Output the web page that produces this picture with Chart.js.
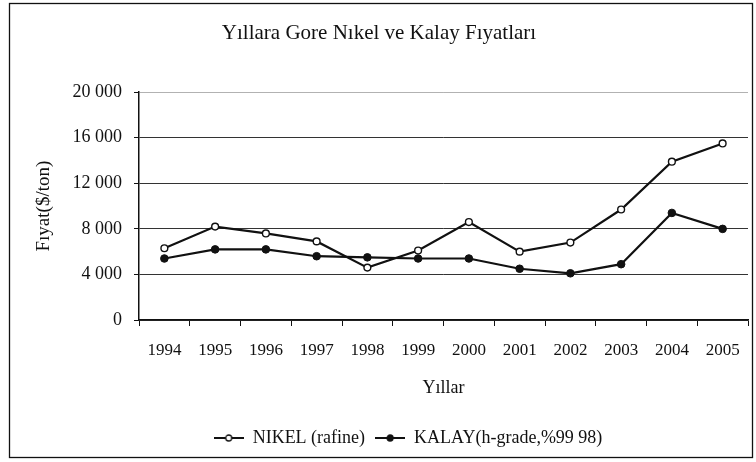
<!DOCTYPE html>
<html><head><meta charset="utf-8">
<script src="https://cdn.jsdelivr.net/npm/chart.js@4.4.1/dist/chart.umd.min.js"></script>
<style>html,body{margin:0;padding:0;background:#fff}</style>
</head><body>
<canvas id="c" width="756" height="462" style="display:block;width:756px;height:462px"></canvas>
<script>
const years = ['1994','1995','1996','1997','1998','1999','2000','2001','2002','2003','2004','2005'];
const nikel = [6300, 8200, 7600, 6900, 4600, 6100, 8600, 6000, 6800, 9700, 13900, 15500];
const kalay = [5400, 6200, 6200, 5600, 5500, 5400, 5400, 4500, 4100, 4900, 9400, 8000];
const yTicks = [0, 4000, 8000, 12000, 16000, 20000];
const seriesNames = ['NIKEL (rafine)', 'KALAY(h-grade,%99 98)'];
const titleText = 'Yıllara Gore Nıkel ve Kalay Fıyatları';
const xTitle = 'Yıllar';
const yTitle = 'Fıyat($/ton)';

const F = "'Liberation Serif','Times New Roman',serif";
const INK = '#111';

function legendIcon(filled) {
  const c = document.createElement('canvas');
  c.width = 30; c.height = 10;
  const g = c.getContext('2d');
  g.strokeStyle = INK; g.lineWidth = 2;
  g.beginPath(); g.moveTo(0, 5); g.lineTo(30, 5); g.stroke();
  g.beginPath(); g.arc(15, 5, 3, 0, Math.PI * 2);
  g.fillStyle = filled ? INK : '#fff'; g.fill();
  g.lineWidth = 1.3; g.stroke();
  return c;
}
const icons = [legendIcon(false), legendIcon(true)];

const frame = {
  id: 'frame',
  afterLayout(chart) {
    if (chart.legend) { chart.legend.left += 29; chart.legend.right += 29; }
  },
  beforeDraw(chart) {
    const ctx = chart.ctx;
    ctx.save();
    ctx.fillStyle = '#fff';
    ctx.fillRect(0, 0, chart.width, chart.height);
    ctx.strokeStyle = INK; ctx.lineWidth = 1.3;
    ctx.strokeRect(9.5, 3.5, 743, 454);
    ctx.restore();
  }
};

const fmt = v => String(v).replace(/\B(?=(\d{3})+(?!\d))/g, ' ');

new Chart(document.getElementById('c'), {
  type: 'line',
  data: {
    labels: years,
    datasets: [
      { label: seriesNames[0], data: nikel, borderColor: INK, borderWidth: 2.2, backgroundColor: '#fff',
        pointBackgroundColor: '#fff', pointBorderColor: INK, pointBorderWidth: 1.4, pointRadius: 3.4, tension: 0 },
      { label: seriesNames[1], data: kalay, borderColor: INK, borderWidth: 2.2, backgroundColor: INK,
        pointBackgroundColor: INK, pointBorderColor: INK, pointBorderWidth: 1, pointRadius: 3.8, tension: 0 }
    ]
  },
  options: {
    responsive: false,
    animation: false,
    layout: { padding: { top: 10, left: 10, right: 8, bottom: 5 } },
    plugins: {
      title: { display: true, text: titleText, color: INK, font: { family: F, size: 21, weight: 'normal' },
               padding: { top: 11, bottom: 46 } },
      legend: {
        position: 'bottom',
        labels: {
          usePointStyle: true, pointStyleWidth: 30, color: INK, padding: 10,
          font: { family: F, size: 18 },
          generateLabels(chart) {
            return chart.data.datasets.map((d, i) => ({
              text: d.label, pointStyle: icons[i], fillStyle: INK, strokeStyle: INK,
              lineWidth: 0, hidden: false, datasetIndex: i, fontColor: INK
            }));
          }
        }
      },
      tooltip: { enabled: false }
    },
    scales: {
      x: {
        offset: true,
        grid: { display: true, drawOnChartArea: false, drawTicks: true, tickLength: 6, color: INK, offset: true },
        border: { color: INK, width: 1.5 },
        ticks: { color: INK, font: { family: F, size: 17 }, padding: 14, maxRotation: 0, autoSkip: false },
        title: { display: true, text: xTitle, color: INK, font: { family: F, size: 18 }, padding: { top: 3, bottom: 20 } }
      },
      y: {
        min: 0, max: 20000,
        afterBuildTicks: s => { s.ticks = yTicks.map(v => ({ value: v })); },
        afterFit: s => { s.width = 129; },
        grid: { color: c => (c.tick && c.tick.value === 20000) ? 'rgba(0,0,0,0.3)' : '#333',
                lineWidth: 1, tickLength: 5, drawTicks: true, tickColor: INK },
        border: { color: INK, width: 1.5 },
        ticks: { color: INK, font: { family: F, size: 18 }, padding: 12, callback: v => fmt(v) },
        title: { display: true, text: yTitle, color: INK, font: { family: F, size: 19 }, padding: { top: 23, bottom: 0 } }
      }
    }
  },
  plugins: [frame]
});
</script>
</body></html>
